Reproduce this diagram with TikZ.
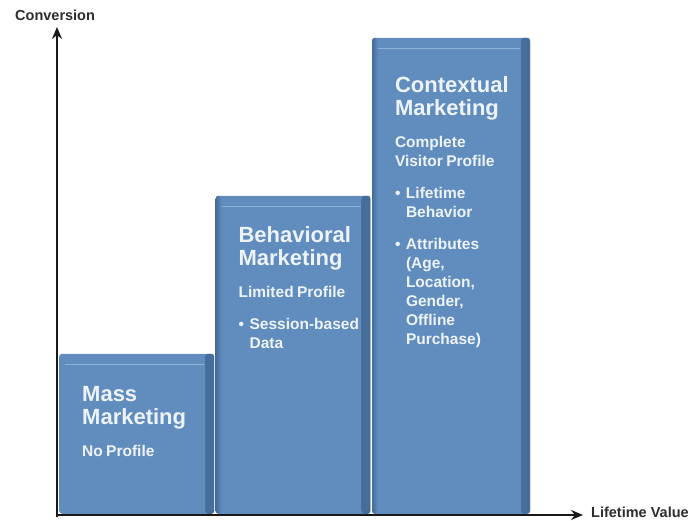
\documentclass[tikz,border=0pt]{standalone}
\usepackage{fontspec}
\setmainfont{Liberation Sans}
\setsansfont{Liberation Sans}
\usetikzlibrary{arrows.meta,positioning,calc}

\definecolor{barblue}{RGB}{96,141,190}
\definecolor{bardark}{RGB}{70,108,153}
\definecolor{barlight}{RGB}{140,178,216}
\definecolor{bartxt}{RGB}{238,243,249}
\definecolor{axisgray}{RGB}{45,45,45}

\setlength{\parindent}{0pt}
\newcommand{\headfont}{\bfseries\fontsize{22}{22.5}\selectfont}
\newcommand{\notefont}{\bfseries\fontsize{15.5}{19}\selectfont}
\newcommand{\blockgap}{\par\vskip13pt}
\newcommand{\dotitem}[1]{\blockgap\hangindent=11pt\hangafter=1\noindent\makebox[11pt][l]{\textbullet}#1\par}
% shading of one column: dark seam right, optional seam left, light rim on top
\newcommand{\barrelief}[1]{%
    \shade[left color=barblue, right color=bardark]
        ([xshift=-9pt]path picture bounding box.north east) rectangle (path picture bounding box.south east);
    \ifdim#1>0pt
    \shade[left color=bardark, right color=barblue]
        (path picture bounding box.north west) rectangle ([xshift=#1]path picture bounding box.south west);
    \fi
    \draw[barlight, line width=1.3pt]
        ([shift={(6pt,-11pt)}]path picture bounding box.north west) --
        ([shift={(-10pt,-11pt)}]path picture bounding box.north east);}

\tikzset{
    bar/.style =      {rectangle,
                      rounded corners=3pt,
                      fill=barblue,
                      inner sep=0pt,
                      anchor=south west,
                      path picture={\barrelief{#1}}},
    bar/.default = 0pt,
    bartext/.style =  {text=bartxt,
                      align=left,
                      text width=128pt,
                      inner sep=0pt},
    axislabel/.style ={text=axisgray,
                      font=\bfseries\fontsize{14.5}{17}\selectfont,
                      inner sep=0pt,
                      anchor=base west},
    axis/.style =     {draw=black!90,
                      line width=2.2pt,
                      -{Stealth[length=12pt,width=10pt]}}}

\begin{document}
\begin{tikzpicture}[x=1pt,y=1pt]
    \useasboundingbox (0,0) rectangle (699,521);

    % the three columns
    \node[bar, minimum width=155pt, minimum height=160pt] (mass)    at (59,7)  {};
    \node[bar=6pt, minimum width=155pt, minimum height=318pt] (behav)   [right=1pt of mass.south east, anchor=south west] {};
    \node[bar=6pt, minimum width=158pt, minimum height=476pt] (context) [right=1pt of behav.south east, anchor=south west] {};

    \node[bartext] (masstxt) [below right=33pt and 23pt of mass.north west]
        {\headfont Mass\newline Marketing\blockgap
         \notefont No Profile\par};
    \node[bartext] (behavtxt) [below right=31pt and 23pt of behav.north west]
        {\headfont Behavioral\newline Marketing\blockgap
         \notefont Limited Profile
         \dotitem{Session-based\newline Data}};
    \node[bartext] (contexttxt) [below right=39pt and 23pt of context.north west]
        {\headfont Contextual\newline Marketing\blockgap
         \notefont Complete\newline Visitor Profile
         \dotitem{Lifetime\newline Behavior}
         \dotitem{Attributes\newline (Age,\newline Location,\newline Gender,\newline Offline\newline Purchase)}};

    % axes
    \coordinate (origin) at (57,6);
    \coordinate (ytip)   at (57,494);
    \coordinate (xtip)   at (583,6);
    \draw[axis] ([yshift=-2pt]origin) -- (ytip);
    \draw[axis] ([xshift=-1.1pt]origin) -- (xtip);

    \node[axislabel] (ylabel) at (15,500) {Conversion};
    \node[axislabel] (xlabel) at (591,3)  {Lifetime Value};
\end{tikzpicture}
\end{document}
